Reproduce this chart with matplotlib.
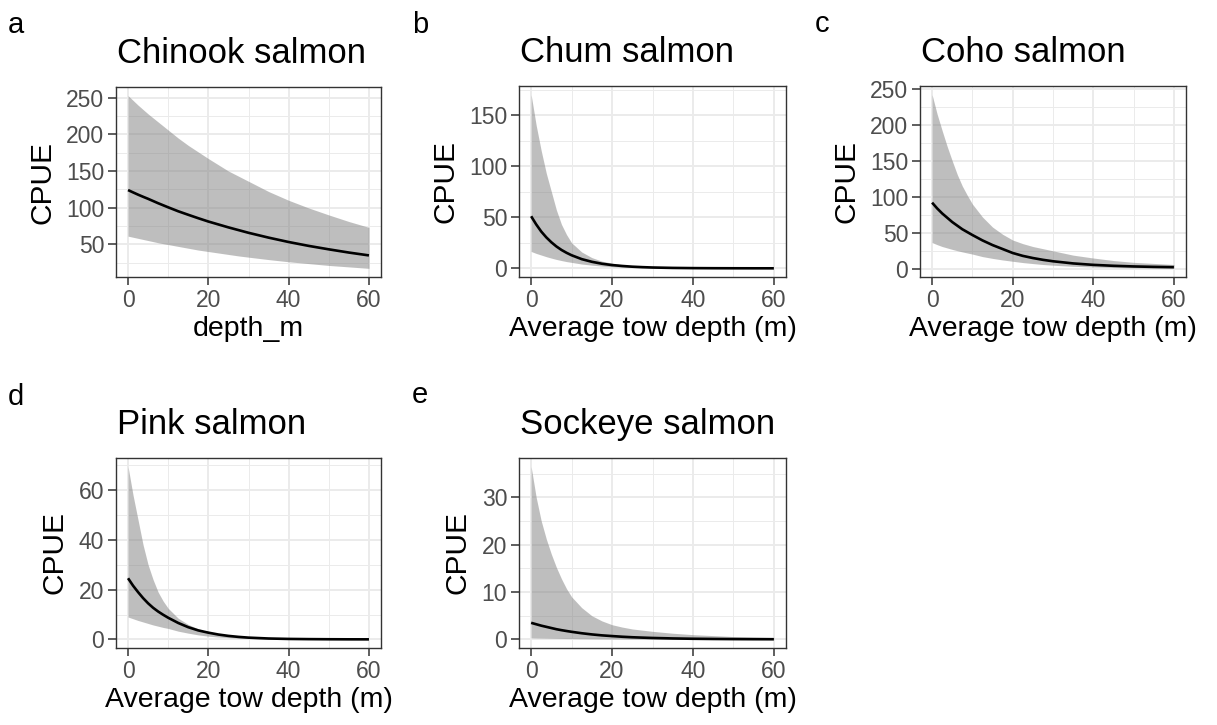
import numpy as np
import matplotlib
matplotlib.use("Agg")
from matplotlib import pyplot as plt
from matplotlib.ticker import MultipleLocator

plt.rcParams["font.family"] = ["Liberation Sans", "DejaVu Sans"]

# depth (m) at which the fitted curves were read
depth = [0, 1.25, 2.5, 3.75, 5, 6.25, 7.5, 8.75, 10, 12.5, 15, 17.5, 20,
         22.5, 25, 27.5, 30, 35, 40, 45, 50, 55, 60]

chinook_fit = [124, 120.8, 117.7, 114.8, 112, 109, 106, 103.2, 100.4, 95, 90.2, 85.5, 81,
               77, 73, 69.3, 65.6, 59, 53, 47.7, 43, 38.6, 34.7]
chinook_lo = [61, 59.5, 58, 56.5, 55, 53.5, 52, 50.7, 49.5, 47, 44.5, 42, 40,
              38, 36, 34, 32.3, 29, 26, 23.5, 21, 19, 17]
chinook_hi = [253, 246.5, 240, 234, 228, 222.5, 217, 211.5, 206, 195, 185, 176, 167,
              158.5, 150, 143, 136, 122, 110, 99.5, 90, 81, 73]

chum_fit = [51, 43, 36, 30.3, 25.5, 21.4, 18, 15.2, 12.8, 9, 6.4, 4.5, 3.2,
            2.3, 1.6, 1.15, 0.8, 0.4, 0.2, 0.1, 0.05, 0.02, 0.01]
chum_lo = [16.5, 14.6, 13, 11.4, 10, 8.7, 7.6, 6.6, 5.8, 4.2, 3.1, 2.2, 1.6,
           1.15, 0.8, 0.57, 0.4, 0.2, 0.1, 0.05, 0.02, 0.01, 0.005]
chum_hi = [170, 140, 115, 93, 75, 57, 43, 33, 25, 16, 10.5, 7, 5,
           3.4, 2.3, 1.6, 1.1, 0.6, 0.3, 0.18, 0.1, 0.05, 0.03]

coho_fit = [92, 84, 77, 71, 65, 60, 55, 51, 47, 39.5, 33, 27.5, 22,
            18, 15, 12.5, 10.5, 7.5, 5.5, 4.2, 3.3, 2.7, 2.3]
coho_lo = [36.5, 33.6, 31, 29, 27, 25.2, 23.5, 22, 20.5, 17, 14.5, 12.3, 10.5,
           8.7, 7.3, 6, 5, 3.5, 2.5, 1.8, 1.3, 1.0, 0.7]
coho_hi = [242, 215, 192, 170, 150, 131, 115, 102, 90, 72, 58, 48, 40,
           35, 31, 28, 25, 19, 15, 11.5, 9, 7.5, 6]

pink_fit = [24.6, 21.6, 19, 16.6, 14.5, 12.7, 11.2, 9.9, 8.7, 6.6, 4.9, 3.6, 2.7,
            1.95, 1.4, 1.0, 0.7, 0.35, 0.18, 0.1, 0.05, 0.02, 0.01]
pink_lo = [9, 8.3, 7.6, 7, 6.4, 5.8, 5.3, 4.8, 4.4, 3.3, 2.5, 1.8, 1.3,
           0.95, 0.7, 0.5, 0.35, 0.17, 0.08, 0.04, 0.02, 0.01, 0.005]
pink_hi = [69.5, 58, 48, 38, 30, 24, 19, 15.4, 12.5, 8.5, 6, 4.2, 3,
           2.1, 1.5, 1.1, 0.8, 0.4, 0.2, 0.1, 0.06, 0.04, 0.02]

sockeye_fit = [3.5, 3.2, 2.9, 2.65, 2.4, 2.15, 1.95, 1.77, 1.6, 1.3, 1.05, 0.85, 0.7,
               0.56, 0.45, 0.37, 0.3, 0.2, 0.13, 0.09, 0.06, 0.04, 0.03]
sockeye_lo = [0.33, 0.3, 0.28, 0.26, 0.24, 0.22, 0.2, 0.18, 0.17, 0.14, 0.12, 0.1, 0.085,
              0.072, 0.06, 0.05, 0.04, 0.03, 0.02, 0.015, 0.01, 0.007, 0.005]
sockeye_hi = [36.5, 30, 25, 21.2, 18, 15.2, 12.8, 10.7, 9, 6.7, 5, 3.9, 3.1,
              2.6, 2.2, 1.95, 1.7, 1.3, 1.0, 0.8, 0.6, 0.5, 0.4]

species = ["Chinook salmon", "Chum salmon", "Coho salmon", "Pink salmon", "Sockeye salmon"]
tags = ["a", "b", "c", "d", "e"]
xlabels = ["depth_m"] + ["Average tow depth (m)"] * 4
fits = [chinook_fit, chum_fit, coho_fit, pink_fit, sockeye_fit]
lows = [chinook_lo, chum_lo, coho_lo, pink_lo, sockeye_lo]
highs = [chinook_hi, chum_hi, coho_hi, pink_hi, sockeye_hi]
ysteps = [50, 50, 50, 20, 10]

W, H = 1217, 725
fig = plt.figure(figsize=(W / 100, H / 100), dpi=100)

# panel boxes in pixels: left, right, top, bottom
boxes = [(116, 381, 87, 277), (519, 786, 86, 277), (920, 1186, 86, 277),
         (116, 381, 458, 648), (519, 786, 458, 648)]
tag_pos = [(8, 33), (412, 33), (815, 32), (8, 405), (412, 403)]

for i in range(5):
    l, r, t, b = boxes[i]
    ax = fig.add_axes([l / W, 1 - b / H, (r - l) / W, (b - t) / H])
    x = np.array(depth)
    lo, hi, fit = np.array(lows[i]), np.array(highs[i]), np.array(fits[i])
    ax.fill_between(x, lo, hi, color="#7f7f7f", alpha=0.5, lw=0, zorder=2)
    ax.plot(x, fit, color="black", lw=1.9, zorder=3, solid_capstyle="butt")

    ymin, ymax = lo.min(), hi.max()
    pad = 0.05 * (ymax - ymin)
    ax.set_ylim(ymin - pad, ymax + pad)
    ax.set_xlim(-3, 63)
    ax.xaxis.set_major_locator(MultipleLocator(20))
    ax.xaxis.set_minor_locator(MultipleLocator(10))
    ax.yaxis.set_major_locator(MultipleLocator(ysteps[i]))
    ax.yaxis.set_minor_locator(MultipleLocator(ysteps[i] / 2))
    ax.grid(which="major", color="#ebebeb", lw=1.4, zorder=0)
    ax.grid(which="minor", color="#ebebeb", lw=0.7, zorder=0)
    ax.set_axisbelow(True)
    for s in ax.spines.values():
        s.set_color("#333333")
        s.set_linewidth(1.0)
    ax.tick_params(which="major", length=5.5, width=1.1, color="#333333",
                   labelsize=16.5, labelcolor="#4d4d4d", pad=3)
    ax.tick_params(which="minor", length=0)
    ax.set_xlabel(xlabels[i], fontsize=20.5, labelpad=3)
    ax.set_ylabel("CPUE", fontsize=21.5, labelpad=7)

    fig.text((l + 1) / W, 1 - (t - 24) / H, species[i], fontsize=25, va="baseline", ha="left")
    tx, ty = tag_pos[i]
    fig.text(tx / W, 1 - ty / H, tags[i], fontsize=21, va="baseline", ha="left")

fig.savefig("out.png", dpi=100)
